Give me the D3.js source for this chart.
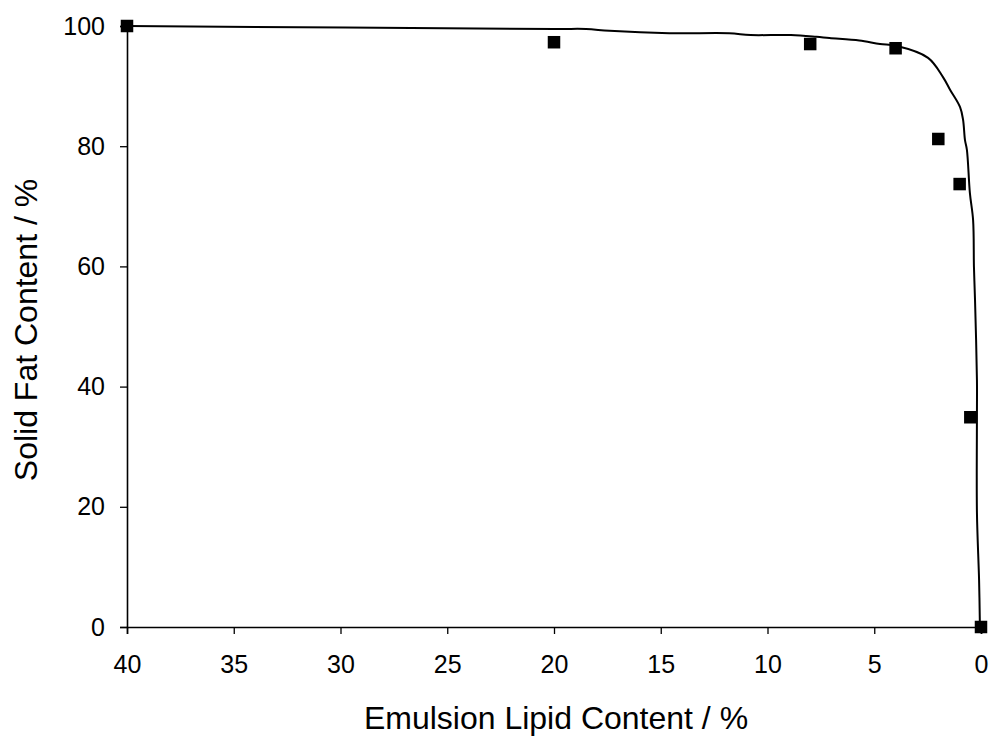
<!DOCTYPE html>
<html><head><meta charset="utf-8">
<script src="https://cdn.jsdelivr.net/npm/d3@7"></script>
<style>
html,body{margin:0;padding:0;background:#fff;}
text{font-family:"Liberation Sans",Arial,sans-serif;fill:#000;}
</style></head>
<body>
<svg id="c" width="993" height="737"></svg>
<script>
// Measured data points
const lipidContent = [40, 20, 8, 4, 2, 1, 0.5, 0];
const solidFat = [100, 97.3, 97.0, 96.3, 81.2, 73.7, 34.9, 0];
// Fitted curve
const curveX = [40, 19.95, 18.5, 17.4, 14.6, 11.8, 10.8, 8.9, 7.7, 7.1, 5.7, 4.73, 3.98, 2.48, 1.78, 1.45, 0.98, 0.84, 0.75, 0.66, 0.52, 0.37, 0.33, 0.28, 0.19, 0.19, 0.19, 0.09, 0.05];
const curveY = [100, 99.5, 99.5, 99.2, 98.8, 98.8, 98.5, 98.5, 98.2, 98.0, 97.6, 97.0, 96.7, 94.7, 91.5, 89.4, 86.5, 84.4, 81.0, 79.4, 72.2, 67.7, 59.9, 54.4, 41.1, 35.6, 19.0, 7.8, 0];
const xTicks = [40, 35, 30, 25, 20, 15, 10, 5, 0];
const yTicks = [0, 20, 40, 60, 80, 100];

const svg = d3.select("#c");
const x = d3.scaleLinear().domain([40, 0]).range([127, 981]);
const y = d3.scaleLinear().domain([0, 100]).range([627, 26]);

const xAxis = svg.append("g").attr("transform", "translate(0,627)")
  .call(d3.axisBottom(x).tickValues(xTicks).tickSizeOuter(0).tickSize(7).tickPadding(21));
const yAxis = svg.append("g").attr("transform", "translate(127,0)")
  .call(d3.axisLeft(y).tickValues(yTicks).tickSizeOuter(0).tickSize(7).tickPadding(15));
[xAxis, yAxis].forEach(g => {
  g.select(".domain").attr("stroke", "#000").attr("stroke-width", 1.6);
  g.selectAll(".tick line").attr("stroke", "#000").attr("stroke-width", 1.3);
  g.selectAll(".tick text").style("font-size", "25px").style("font-family", "Liberation Sans, Arial, sans-serif").attr("fill", "#000");
});

svg.append("path")
  .datum(curveX.map((v, i) => [v, curveY[i]]))
  .attr("fill", "none").attr("stroke", "#000").attr("stroke-width", 2)
  .attr("d", d3.line().x(d => x(d[0])).y(d => y(d[1])).curve(d3.curveCatmullRom.alpha(0.5)));

const s = 12.5;
svg.append("g").selectAll("rect")
  .data(lipidContent.map((v, i) => [v, solidFat[i]]))
  .join("rect")
  .attr("x", d => x(d[0]) - s / 2).attr("y", d => y(d[1]) - s / 2)
  .attr("width", s).attr("height", s).attr("fill", "#000");

svg.append("text").attr("x", 556).attr("y", 729).attr("text-anchor", "middle")
  .style("font-size", "32px").text("Emulsion Lipid Content / %");
svg.append("text").attr("transform", "translate(37,330) rotate(-90)").attr("text-anchor", "middle")
  .style("font-size", "32px").text("Solid Fat Content / %");
</script>
</body></html>
